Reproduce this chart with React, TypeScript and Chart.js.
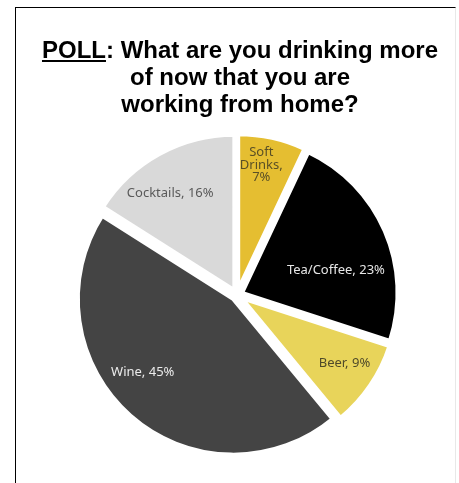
import React, { useEffect, useRef } from "react";
import { Chart, registerables } from "chart.js";

Chart.register(...registerables);

// ---- data ----
const categories = ["Soft Drinks", "Tea/Coffee", "Beer", "Wine", "Cocktails"];
const values = [7, 23, 9, 45, 16];
const sliceColors = ["#E5BE31", "#000000", "#E8D45A", "#444444", "#D9D9D9"];
const labelColors = ["#5a5026", "#e6e6e6", "#4f4a2a", "#ebebeb", "#595959"];
const titleEmphasis = "POLL";
const titleLines = [": What are you drinking more", "of now that you are", "working from home?"];
// label placement inside each slice: share of the slice's angle, share of the radius
const labelAngleFrac = [0.42, 0.615, 0.45, 0.556, 0.42];
const labelRadiusFrac = [0.85, 0.655, 0.82, 0.786, 0.78];
const labelWrap = [true, false, false, false, false];

const W = 459;
const H = 483;
const EXPLODE = 5.5; // px each slice is pulled out from the centre

const titlePlugin = {
  id: "pollTitle",
  afterDraw(chart: any) {
    const ctx = chart.ctx;
    ctx.save();
    ctx.font = "bold 24px 'Liberation Sans', Arial, sans-serif";
    ctx.fillStyle = "#000";
    ctx.textBaseline = "alphabetic";
    const cx = 240;
    const baselines = [57.5, 85, 112];
    const wEm = ctx.measureText(titleEmphasis).width;
    const wRest = ctx.measureText(titleLines[0]).width;
    const x0 = cx - (wEm + wRest) / 2;
    ctx.textAlign = "left";
    ctx.fillText(titleEmphasis, x0, baselines[0]);
    ctx.fillText(titleLines[0], x0 + wEm, baselines[0]);
    ctx.fillRect(x0, baselines[0] + 2.5, wEm, 2);
    ctx.textAlign = "center";
    ctx.fillText(titleLines[1], cx, baselines[1]);
    ctx.fillText(titleLines[2], cx, baselines[2]);
    ctx.restore();
  },
};

// draws each arc element of the library translated outward (exploded pie, equal radii)
const explodePlugin = {
  id: "explode",
  beforeDatasetDraw(chart: any, args: any) {
    const meta = args.meta;
    const ctx = chart.ctx;
    meta.data.forEach((arc: any) => {
      const half = (arc.startAngle + arc.endAngle) / 2;
      ctx.save();
      ctx.translate(Math.cos(half) * EXPLODE, Math.sin(half) * EXPLODE);
      arc.draw(ctx, chart.chartArea);
      ctx.restore();
    });
    return false;
  },
};

const labelPlugin = {
  id: "sliceLabels",
  afterDatasetsDraw(chart: any) {
    const ctx = chart.ctx;
    const meta = chart.getDatasetMeta(0);
    ctx.save();
    ctx.font = "13px 'Noto Sans', 'Open Sans', sans-serif";
    ctx.textAlign = "center";
    ctx.textBaseline = "middle";
    meta.data.forEach((arc: any, i: number) => {
      const p = arc.getProps(["x", "y", "startAngle", "endAngle", "outerRadius"], true);
      const a = p.startAngle + (p.endAngle - p.startAngle) * labelAngleFrac[i];
      const r = p.outerRadius * labelRadiusFrac[i];
      const px = p.x + Math.cos(a) * r;
      const py = p.y + Math.sin(a) * r;
      const text = `${categories[i]}, ${values[i]}%`;
      const lines = labelWrap[i] ? text.split(" ") : [text];
      const lh = 12.5;
      ctx.fillStyle = labelColors[i];
      lines.forEach((ln: string, k: number) => {
        ctx.fillText(ln, px, py + (k - (lines.length - 1) / 2) * lh);
      });
    });
    ctx.restore();
  },
};

export default function App() {
  const ref = useRef<HTMLCanvasElement | null>(null);
  useEffect(() => {
    if (!ref.current) return;
    const chart = new Chart(ref.current, {
      type: "pie",
      data: {
        labels: categories,
        datasets: [
          {
            data: values,
            backgroundColor: sliceColors,
            borderColor: "#ffffff",
            borderWidth: 4,
            offset: 0,
            radius: 155.5,
          } as any,
        ],
      },
      options: {
        responsive: false,
        animation: false,
        devicePixelRatio: 1,
        layout: { padding: { left: 15, right: 0, top: 120, bottom: 13 } },
        plugins: {
          legend: { display: false },
          title: { display: false },
          tooltip: { enabled: false },
        },
      } as any,
      plugins: [explodePlugin, titlePlugin, labelPlugin],
    });
    return () => chart.destroy();
  }, []);

  return (
    <div style={{ position: "fixed", left: 0, top: 0, width: W, height: H, overflow: "hidden", background: "#fff" }}>
      <canvas ref={ref} width={W} height={H} style={{ position: "absolute", left: 0, top: 0, width: W, height: H }} />
      <div
        style={{
          position: "absolute",
          left: 15,
          top: 7,
          width: 439,
          height: 490,
          borderTop: "1px solid #000",
          borderLeft: "1px solid #000",
          borderRight: "1px solid #e8e8e8",
          pointerEvents: "none",
        }}
      />
    </div>
  );
}
